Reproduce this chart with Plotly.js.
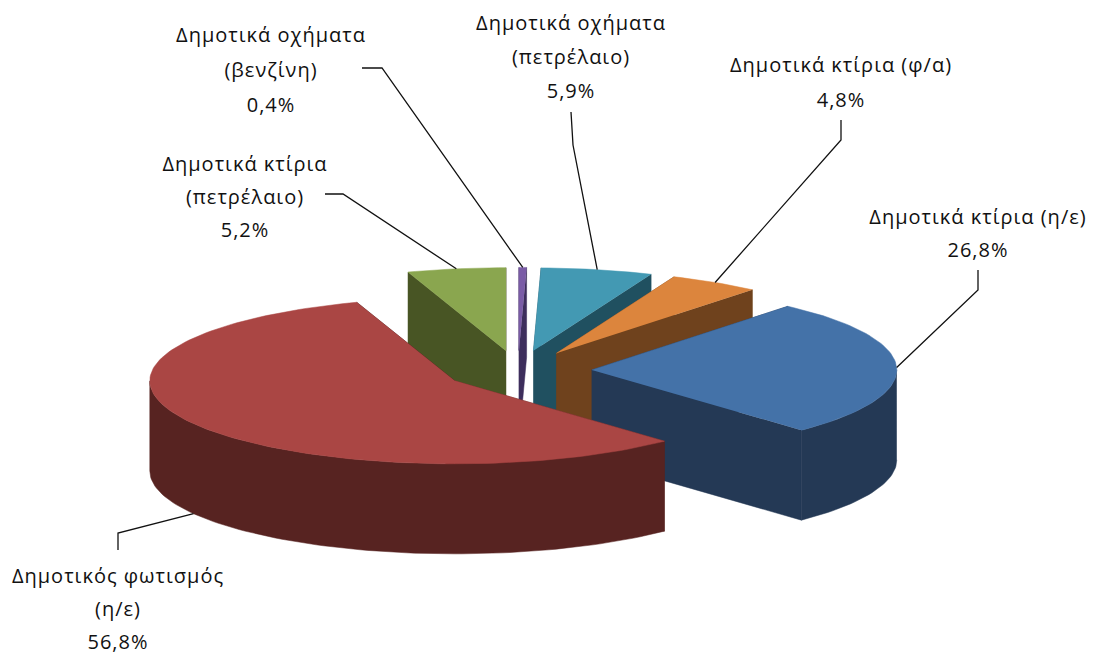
<!DOCTYPE html>
<html>
<head>
<meta charset="utf-8">
<script src="https://cdn.plot.ly/plotly-3.0.1.min.js"></script>
<style>html,body{margin:0;padding:0;background:#fff}#chart{width:1094px;height:656px}#chart text{letter-spacing:1px}</style>
</head>
<body>
<div id="chart"></div>
<script>
// Data
var categories = ["Δημοτικά κτίρια (η/ε)", "Δημοτικός φωτισμός (η/ε)", "Δημοτικά κτίρια (πετρέλαιο)", "Δημοτικά οχήματα (βενζίνη)", "Δημοτικά οχήματα (πετρέλαιο)", "Δημοτικά κτίρια (φ/α)"];
var shares = [26.8, 56.8, 5.2, 0.4, 5.9, 4.8];
var shareLabels = ["26,8%", "56,8%", "5,2%", "0,4%", "5,9%", "4,8%"];
var labelLines = [
  ["Δημοτικά κτίρια (η/ε)"],
  ["Δημοτικός φωτισμός", "(η/ε)"],
  ["Δημοτικά κτίρια", "(πετρέλαιο)"],
  ["Δημοτικά οχήματα", "(βενζίνη)"],
  ["Δημοτικά οχήματα", "(πετρέλαιο)"],
  ["Δημοτικά κτίρια (φ/α)"]
];
// Styles and layout
var topColors = ["#4472a8", "#aa4644", "#8aa64f", "#7a5ca6", "#4399b3", "#dc853d"];
var sideColors = ["#243955", "#572321", "#485524", "#3d2e5c", "#205060", "#6f421d"];
var drawOrder = [2, 3, 4, 5, 0, 1];
var labelX = [978, 118, 245, 271, 571, 841];
var labelTopY = [219, 578, 166, 37, 25, 67];
var labelStep = [33, 33, 33, 35, 34, 35];
var leaderBends = [
  [[978, 270], [978, 290]],
  [[118, 550], [118, 533]],
  [[325, 194], [343, 194]],
  [[362, 68], [382, 68]],
  [[571, 112], [573, 145]],
  [[841, 120], [841, 140]]
];
var cx = 518, cy = 370.5, rx = 305, ry = 83, depth = 90, explode = 0.242, startDeg = -50;

var total = shares.reduce(function (a, b) { return a + b; }, 0);
var rad = Math.PI / 180;
var slices = [];
var acc = startDeg;
shares.forEach(function (v) {
  var span = v / total * 360;
  var mid = acc + span / 2;
  slices.push({
    a: acc, b: acc + span, mid: mid,
    ax: cx + explode * rx * Math.cos(mid * rad),
    ay: cy + explode * ry * Math.sin(mid * rad)
  });
  acc += span;
});
function rim(s, t) {
  return [s.ax + rx * Math.cos(t * rad), s.ay + ry * Math.sin(t * rad)];
}
function arc(s, a, b) {
  var pts = [], n = Math.max(2, Math.ceil(Math.abs(b - a) / 1.5));
  for (var i = 0; i <= n; i++) pts.push(rim(s, a + (b - a) * i / n));
  return pts;
}
function poly(pts, color) {
  return {
    type: "scatter", mode: "lines", x: pts.map(function (p) { return p[0]; }), y: pts.map(function (p) { return p[1]; }),
    fill: "toself", fillcolor: color, line: { color: color, width: 0.5 }, hoverinfo: "skip", showlegend: false
  };
}
var traces = [];
drawOrder.forEach(function (i) {
  var s = slices[i], c = sideColors[i];
  [s.a, s.b].forEach(function (t) {
    var e = rim(s, t);
    traces.push(poly([[s.ax, s.ay], e, [e[0], e[1] + depth], [s.ax, s.ay + depth]], c));
  });
  // Outer wall: only the part of the rim facing the viewer (0 to 180 degrees)
  var fa = Math.max(s.a, 0), fb = Math.min(s.b, 180);
  if (fb > fa) {
    var front = arc(s, fa, fb);
    var lower = front.slice().reverse().map(function (p) { return [p[0], p[1] + depth]; });
    traces.push(poly(front.concat(lower), c));
  }
  traces.push(poly([[s.ax, s.ay]].concat(arc(s, s.a, s.b)), topColors[i]));
});
// Leader lines end on each slice's mid-angle rim point
slices.forEach(function (s, i) {
  var e = rim(s, s.mid);
  var onFront = Math.sin(s.mid * rad) > 0.2;
  var end = onFront ? [e[0], e[1] + depth] : e;
  var pts = leaderBends[i].concat([end]);
  traces.push({
    type: "scatter", mode: "lines", x: pts.map(function (p) { return p[0]; }), y: pts.map(function (p) { return p[1]; }),
    line: { color: "#111", width: 1.3 }, hoverinfo: "skip", showlegend: false
  });
});
// Labels
var tx = [], ty = [], tt = [];
labelLines.forEach(function (lines, i) {
  lines.concat([shareLabels[i]]).forEach(function (line, k) {
    tx.push(labelX[i]); ty.push(labelTopY[i] + k * labelStep[i]); tt.push(line);
  });
});
traces.push({
  type: "scatter", mode: "text", x: tx, y: ty, text: tt, textposition: "middle center", cliponaxis: false,
  textfont: { family: "'Open Sans', Lato, sans-serif", size: 20, color: "#111" }, hoverinfo: "skip", showlegend: false
});
Plotly.newPlot("chart", traces, {
  width: 1094, height: 656, margin: { l: 0, r: 0, t: 0, b: 0 },
  paper_bgcolor: "#fff", plot_bgcolor: "#fff", showlegend: false,
  xaxis: { range: [0, 1094], visible: false, fixedrange: true },
  yaxis: { range: [656, 0], visible: false, fixedrange: true }
}, { displayModeBar: false, staticPlot: true });
</script>
</body>
</html>
